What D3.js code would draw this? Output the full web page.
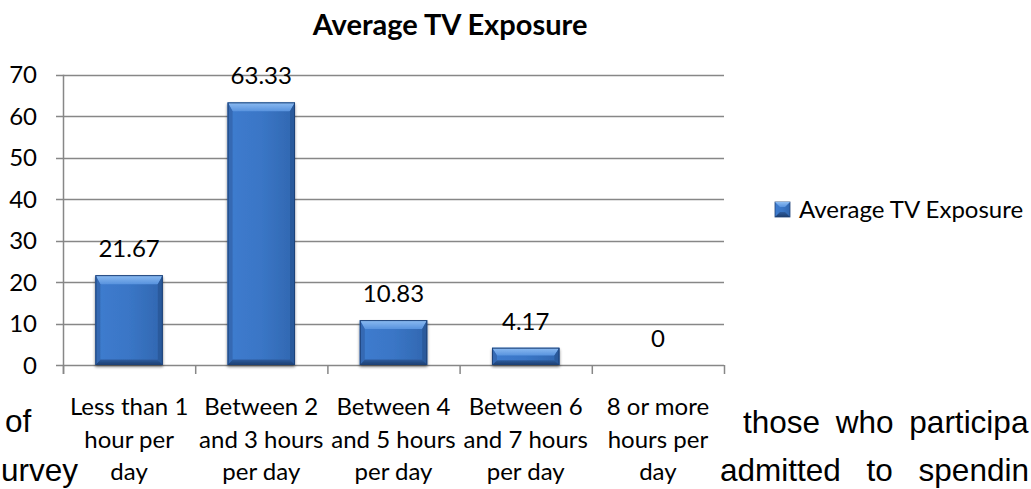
<!DOCTYPE html>
<html>
<head>
<meta charset="utf-8">
<script src="https://cdn.jsdelivr.net/npm/d3@7/dist/d3.min.js"></script>
<style>
  html, body { margin: 0; padding: 0; background: #ffffff; overflow: hidden; }
  svg { display: block; }
  .lbl { font-family: Lato, "Open Sans", sans-serif; fill: #000; }
  .page { font-family: "Liberation Sans", Arial, sans-serif; fill: #000; font-size: 31.5px; }
</style>
</head>
<body>
<svg id="chart" width="1031" height="489"></svg>
<script>
// Chart data
const title = "Average TV Exposure";
const seriesName = "Average TV Exposure";
const categories = [
  ["Less than 1", "hour per", "day"],
  ["Between 2", "and 3 hours", "per day"],
  ["Between 4", "and 5 hours", "per day"],
  ["Between 6", "and 7 hours", "per day"],
  ["8 or more", "hours per", "day"]
];
const values = [21.67, 63.33, 10.83, 4.17, 0];
const yTicks = [0, 10, 20, 30, 40, 50, 60, 70];

const svg = d3.select("#chart");

// Plot area
const plot = { left: 63, right: 724, top: 74.7, bottom: 365 };
const fs = 24;

const x = d3.scaleBand()
  .domain(d3.range(categories.length))
  .range([plot.left, plot.right])
  .paddingInner(0).paddingOuter(0);

const y = d3.scaleLinear()
  .domain([0, 70])
  .range([plot.bottom, plot.top]);

const defs = svg.append("defs");

// Bar face gradient
const gFace = defs.append("linearGradient").attr("id", "face")
  .attr("x1", "0").attr("x2", "1").attr("y1", "0").attr("y2", "0");
gFace.append("stop").attr("offset", "0").attr("stop-color", "#3e7ccf");
gFace.append("stop").attr("offset", "0.5").attr("stop-color", "#3a76c6");
gFace.append("stop").attr("offset", "1").attr("stop-color", "#3167b0");

const gTop = defs.append("linearGradient").attr("id", "topBevel")
  .attr("x1", "0").attr("x2", "0").attr("y1", "0").attr("y2", "1");
gTop.append("stop").attr("offset", "0").attr("stop-color", "#8dbcf2");
gTop.append("stop").attr("offset", "1").attr("stop-color", "#5893de");

const gBot = defs.append("linearGradient").attr("id", "botBevel")
  .attr("x1", "0").attr("x2", "0").attr("y1", "0").attr("y2", "1");
gBot.append("stop").attr("offset", "0").attr("stop-color", "#2d5c9e");
gBot.append("stop").attr("offset", "1").attr("stop-color", "#1c3d6e");

const shadow = defs.append("filter").attr("id", "shadow")
  .attr("x", "-20%").attr("y", "-20%").attr("width", "140%").attr("height", "140%");
shadow.append("feGaussianBlur").attr("in", "SourceAlpha").attr("stdDeviation", 1.6);
shadow.append("feOffset").attr("dx", 0).attr("dy", 2).attr("result", "ob");
shadow.append("feComponentTransfer").append("feFuncA").attr("type", "linear").attr("slope", 0.45);
const merge = shadow.append("feMerge");
merge.append("feMergeNode");
merge.append("feMergeNode").attr("in", "SourceGraphic");

// Gridlines
svg.append("g")
  .selectAll("line")
  .data(yTicks)
  .join("line")
  .attr("x1", plot.left - 7)
  .attr("x2", plot.right)
  .attr("y1", d => Math.round(y(d)) + 0.5)
  .attr("y2", d => Math.round(y(d)) + 0.5)
  .attr("stroke", "#878787")
  .attr("stroke-width", 1.5);

// Y axis line
svg.append("line")
  .attr("x1", plot.left + 0.5).attr("x2", plot.left + 0.5)
  .attr("y1", plot.top).attr("y2", plot.bottom + 9)
  .attr("stroke", "#878787").attr("stroke-width", 1.5);

// Category boundary ticks
svg.append("g")
  .selectAll("line")
  .data(d3.range(categories.length + 1))
  .join("line")
  .attr("x1", i => (i < categories.length ? x(i) : x(i - 1) + x.bandwidth()) + 0.5)
  .attr("x2", i => (i < categories.length ? x(i) : x(i - 1) + x.bandwidth()) + 0.5)
  .attr("y1", plot.bottom)
  .attr("y2", plot.bottom + 9)
  .attr("stroke", "#878787").attr("stroke-width", 1.5);

// Y tick labels
svg.append("g")
  .selectAll("text")
  .data(yTicks)
  .join("text")
  .attr("class", "lbl")
  .attr("x", 37)
  .attr("y", d => y(d))
  .attr("dy", "0.36em")
  .attr("text-anchor", "end")
  .attr("font-size", fs)
  .text(d => d);

// Bars with bevelled faces
const barFrac = 0.51;
const bars = svg.append("g").selectAll("g")
  .data(values.map((v, i) => ({ v, i })).filter(d => d.v > 0))
  .join("g")
  .attr("filter", "url(#shadow)");

bars.each(function (d) {
  const g = d3.select(this);
  const bw = x.bandwidth() * barFrac;
  const x0 = x(d.i) + (x.bandwidth() - bw) / 2;
  const x1 = x0 + bw;
  const y0 = y(d.v);
  const y1 = y(0);
  const h = y1 - y0;
  const b = Math.min(9, h / 2.2);
  const sb = Math.min(5, bw / 4);
  g.append("rect")
    .attr("x", x0).attr("y", y0).attr("width", bw).attr("height", h)
    .attr("fill", "url(#face)");
  // top bevel
  g.append("path")
    .attr("d", `M${x0},${y0}L${x1},${y0}L${x1 - sb},${y0 + b}L${x0 + sb},${y0 + b}Z`)
    .attr("fill", "url(#topBevel)");
  // left bevel
  g.append("path")
    .attr("d", `M${x0},${y0}L${x0 + sb},${y0 + b}L${x0 + sb},${y1 - b * 0.6}L${x0},${y1}Z`)
    .attr("fill", "#3569b3");
  // right bevel
  g.append("path")
    .attr("d", `M${x1},${y0}L${x1 - sb},${y0 + b}L${x1 - sb},${y1 - b * 0.6}L${x1},${y1}Z`)
    .attr("fill", "#2a5a9c");
  // bottom bevel
  g.append("path")
    .attr("d", `M${x0},${y1}L${x0 + sb},${y1 - b * 0.6}L${x1 - sb},${y1 - b * 0.6}L${x1},${y1}Z`)
    .attr("fill", "url(#botBevel)");
  g.append("rect")
    .attr("x", x0 + 0.5).attr("y", y0 + 0.5).attr("width", bw - 1).attr("height", h - 1)
    .attr("fill", "none").attr("stroke", "#1f4378").attr("stroke-width", 1);
});

// Value labels
svg.append("g")
  .selectAll("text")
  .data(values)
  .join("text")
  .attr("class", "lbl")
  .attr("x", (d, i) => x(i) + x.bandwidth() / 2)
  .attr("y", d => y(d) - 18)
  .attr("text-anchor", "middle")
  .attr("font-size", fs)
  .text(d => d);

// Category labels (three lines each)
const catG = svg.append("g").selectAll("text")
  .data(categories)
  .join("text")
  .attr("class", "lbl")
  .attr("text-anchor", "middle")
  .attr("font-size", fs)
  .attr("x", (d, i) => x(i) + x.bandwidth() / 2)
  .attr("y", 415);
catG.selectAll("tspan")
  .data(d => d)
  .join("tspan")
  .attr("x", function () { return d3.select(this.parentNode).attr("x"); })
  .attr("dy", (d, j) => (j === 0 ? 0 : 32.5))
  .text(d => d);

// Title
svg.append("text")
  .attr("class", "lbl")
  .attr("x", 450)
  .attr("y", 35)
  .attr("text-anchor", "middle")
  .attr("font-size", 29)
  .attr("font-weight", "bold")
  .text(title);

// Legend
const lg = svg.append("g").attr("transform", "translate(775,202)");
lg.append("rect").attr("width", 15).attr("height", 15).attr("fill", "url(#face)")
  .attr("stroke", "#1f4378").attr("stroke-width", 0.8);
lg.append("path").attr("d", "M0,0L15,0L10,5L5,5Z").attr("fill", "url(#topBevel)");
lg.append("path").attr("d", "M0,15L15,15L10,10L5,10Z").attr("fill", "url(#botBevel)");
lg.append("text")
  .attr("class", "lbl")
  .attr("x", 24)
  .attr("y", 7.5)
  .attr("dy", "0.36em")
  .attr("font-size", fs)
  .text(seriesName);

// Surrounding document text
svg.append("text").attr("class", "page").attr("x", 5).attr("y", 432).text("of");
svg.append("text").attr("class", "page").attr("x", 1).attr("y", 481).text("urvey");
svg.append("text").attr("class", "page").attr("x", 743).attr("y", 433)
  .attr("word-spacing", 7).text("those who participa");
svg.append("text").attr("class", "page").attr("x", 720).attr("y", 481)
  .attr("word-spacing", 17).text("admitted to spendin");
</script>
</body>
</html>
